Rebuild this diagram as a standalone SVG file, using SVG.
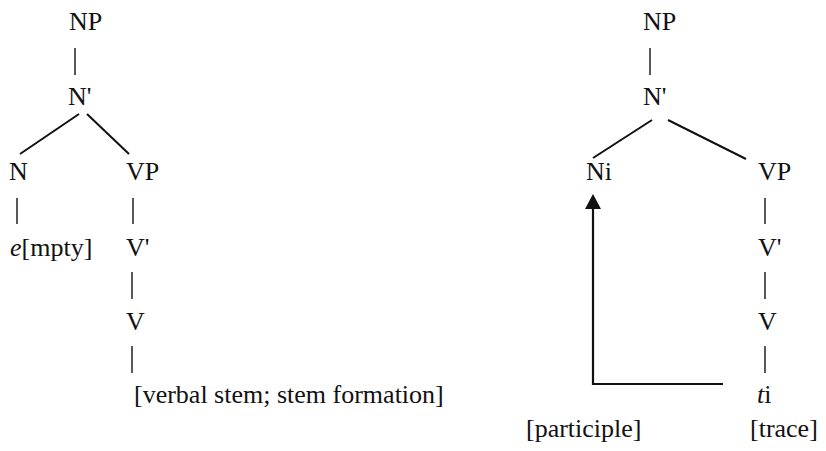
<svg xmlns="http://www.w3.org/2000/svg" width="826" height="451" viewBox="0 0 826 451">
  <style>
    .t { font-family: 'Liberation Serif', 'Noto Serif', 'DejaVu Serif', 'Tinos', 'FreeSerif', 'Times New Roman', Times, serif; font-size: 26px; fill: #111; }
    .it { font-style: italic; }
    .bar { stroke: #222; stroke-width: 1.5; fill: none; }
    .br { stroke: #111; stroke-width: 2; fill: none; }
    .mv { stroke: #111; stroke-width: 2.2; fill: none; }
  </style>
  <defs>
    <marker id="head" viewBox="0 0 15 16" refX="0" refY="8" markerWidth="15" markerHeight="16" markerUnits="userSpaceOnUse" orient="auto">
      <path d="M0,0 L15,8 L0,16 z" fill="#111"/>
    </marker>
  </defs>

  <!-- left tree: empty-headed NP -->
  <g id="l-np"><text class="t" x="69" y="30">NP</text></g>
  <g id="l-nbar"><text class="t" x="68" y="105">N'</text></g>
  <g id="l-n"><text class="t" x="9" y="180">N</text></g>
  <g id="l-vp"><text class="t" x="126" y="180">VP</text></g>
  <g id="l-empty"><text class="t" x="10" y="256"><tspan class="it">e</tspan>[mpty]</text></g>
  <g id="l-vbar"><text class="t" x="126" y="256">V'</text></g>
  <g id="l-v"><text class="t" x="126" y="330">V</text></g>
  <g id="l-stem"><text class="t" x="134" y="403">[verbal stem; stem formation]</text></g>

  <!-- right tree: participle with trace -->
  <g id="r-np"><text class="t" x="643" y="30">NP</text></g>
  <g id="r-nbar"><text class="t" x="643" y="105">N'</text></g>
  <g id="r-ni"><text class="t" x="586" y="180">Ni</text></g>
  <g id="r-vp"><text class="t" x="758" y="180">VP</text></g>
  <g id="r-vbar"><text class="t" x="758" y="256">V'</text></g>
  <g id="r-v"><text class="t" x="758" y="330">V</text></g>
  <g id="r-trace"><text class="t" x="757" y="403"><tspan class="it">t</tspan>i</text></g>
  <g id="r-participle"><text class="t" x="526" y="437">[participle]</text></g>
  <g id="r-tracelabel"><text class="t" x="750" y="437">[trace]</text></g>

  <g id="connectors">
    <!-- left tree -->
    <line class="bar" x1="75" y1="48" x2="75" y2="75"/>
    <line class="br" x1="79" y1="114" x2="20" y2="154"/>
    <line class="br" x1="87" y1="114" x2="129" y2="154"/>
    <line class="bar" x1="17" y1="198" x2="17" y2="224"/>
    <line class="bar" x1="133" y1="198" x2="133" y2="224"/>
    <line class="bar" x1="132" y1="272" x2="132" y2="299"/>
    <line class="bar" x1="132" y1="346" x2="132" y2="373"/>
    <!-- right tree -->
    <line class="bar" x1="650" y1="48" x2="650" y2="75"/>
    <line class="br" x1="652" y1="120" x2="593" y2="158"/>
    <line class="br" x1="668" y1="120" x2="746" y2="159"/>
    <line class="bar" x1="765" y1="198" x2="765" y2="224"/>
    <line class="bar" x1="765" y1="272" x2="765" y2="299"/>
    <line class="bar" x1="765" y1="346" x2="765" y2="373"/>
    <!-- movement: trace back to Ni -->
    <polyline class="mv" points="723,384 593,384 593,209" marker-end="url(#head)"/>
  </g>
</svg>
